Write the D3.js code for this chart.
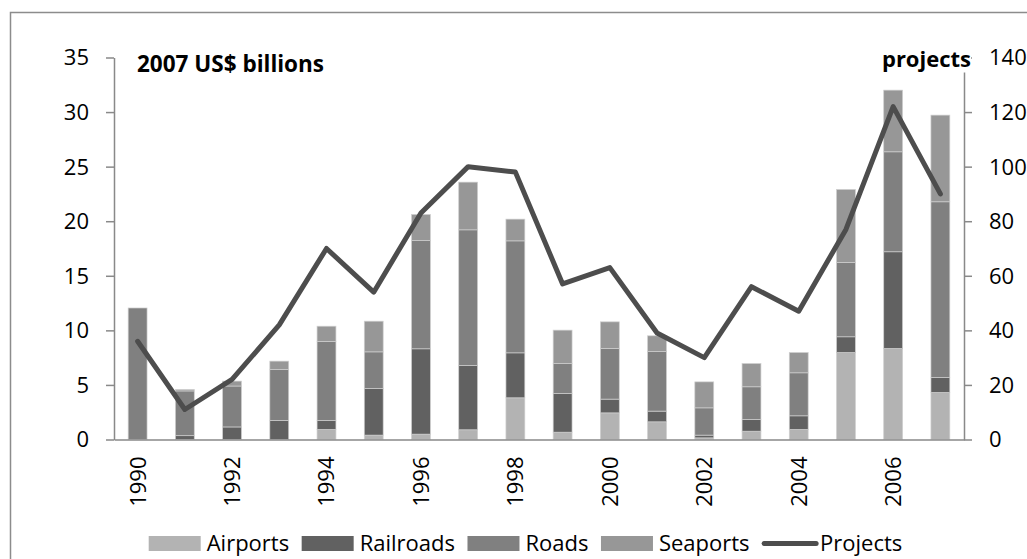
<!DOCTYPE html>
<html>
<head>
<meta charset="utf-8">
<script src="https://cdn.jsdelivr.net/npm/d3@7"></script>
<style>
  html, body { margin: 0; padding: 0; background: #fff; }
  svg { display: block; font-family: "Open Sans", "Liberation Sans", sans-serif; }
</style>
</head>
<body>
<svg id="chart" width="1027" height="559"></svg>
<script>
// Private investment in transport infrastructure, 1990–2007
const years = [1990, 1991, 1992, 1993, 1994, 1995, 1996, 1997, 1998, 1999,
               2000, 2001, 2002, 2003, 2004, 2005, 2006, 2007];
const airports  = [0, 0, 0, 0, 0.92, 0.40, 0.49, 0.89, 3.82, 0.67, 2.44, 1.62, 0.15, 0.76, 0.92, 7.97, 8.34, 4.31];
const railroads = [0, 0.35, 1.15, 1.74, 0.82, 4.27, 7.82, 5.89, 4.12, 3.54, 1.26, 0.98, 0.25, 1.07, 1.25, 1.44, 8.86, 1.37];
const roads     = [12.05, 4.10, 3.75, 4.67, 7.24, 3.36, 9.92, 12.43, 10.26, 2.75, 4.64, 5.46, 2.50, 3.00, 3.94, 6.81, 9.16, 16.10];
const seaports  = [0, 0.13, 0.45, 0.77, 1.40, 2.81, 2.39, 4.37, 1.99, 3.06, 2.44, 1.44, 2.38, 2.13, 1.86, 6.69, 5.65, 7.94];
const projects  = [36, 11, 22, 42, 70, 54, 83, 100, 98, 57, 63, 39, 30, 56, 47, 77, 122, 90];

const leftTicks  = [0, 5, 10, 15, 20, 25, 30, 35];
const rightTicks = [0, 20, 40, 60, 80, 100, 120, 140];

const seriesNames  = ["Airports", "Railroads", "Roads", "Seaports"];
const seriesColors = ["#b3b3b3", "#616161", "#808080", "#979797"];
const lineColor = "#4d4d4d";
const axisColor = "#898989";

const svg = d3.select("#chart");

// outer frame
svg.append("rect")
  .attr("x", 10.5).attr("y", 12.5)
  .attr("width", 1100).attr("height", 600)
  .attr("fill", "#fff")
  .attr("stroke", "#8c8c8c").attr("stroke-width", 1.5);

const plot = { left: 114, right: 964, top: 57.5, bottom: 439.5 };

const x = d3.scaleBand()
  .domain(years)
  .range([plot.left, plot.right])
  .paddingInner(0.6)
  .paddingOuter(0.3);

const y = d3.scaleLinear().domain([0, 35]).range([plot.bottom, plot.top]);
const y2 = d3.scaleLinear().domain([0, 140]).range([plot.bottom, plot.top]);

// stacked bars
const rows = years.map((yr, i) => ({
  year: yr,
  Airports: airports[i],
  Railroads: railroads[i],
  Roads: roads[i],
  Seaports: seaports[i]
}));
const stacked = d3.stack().keys(seriesNames)(rows);

svg.append("g").selectAll("g")
  .data(stacked)
  .join("g")
  .attr("fill", (d, i) => seriesColors[i])
  .selectAll("rect")
  .data(d => d.filter(s => s[1] - s[0] > 0))
  .join("rect")
  .attr("x", d => x(d.data.year))
  .attr("width", x.bandwidth())
  .attr("y", d => y(d[1]))
  .attr("height", d => y(d[0]) - y(d[1]))
  .attr("stroke", "#cfcfcf")
  .attr("stroke-width", 0.7);

// axes
const fontSize = 22;

const leftAxis = svg.append("g")
  .attr("transform", `translate(${plot.left},0)`)
  .call(d3.axisLeft(y).tickValues(leftTicks).tickSize(8).tickSizeOuter(0).tickPadding(17));

const rightAxis = svg.append("g")
  .attr("transform", `translate(${plot.right},0)`)
  .call(d3.axisRight(y2).tickValues(rightTicks).tickSize(8).tickSizeOuter(0).tickPadding(17));

const bottomAxis = svg.append("g")
  .attr("transform", `translate(0,${plot.bottom})`)
  .call(d3.axisBottom(x)
    .tickValues(years.filter(yr => yr % 2 === 0))
    .tickSize(0).tickSizeOuter(0).tickPadding(0));

[leftAxis, rightAxis, bottomAxis].forEach(g => {
  g.select(".domain").attr("stroke", axisColor).attr("stroke-width", 1.5);
  g.selectAll(".tick line").attr("stroke", axisColor).attr("stroke-width", 1.5);
  g.selectAll(".tick text")
    .attr("fill", "#000")
    .attr("font-size", fontSize)
    .attr("font-family", "'Open Sans', sans-serif");
});
leftAxis.selectAll(".tick text").attr("dy", "0.34em");
rightAxis.selectAll(".tick text").attr("dy", "0.34em");

bottomAxis.selectAll(".tick text")
  .attr("text-anchor", "end")
  .attr("transform", "translate(0,17) rotate(-90)")
  .attr("x", 0).attr("y", 0)
  .attr("dy", "0.36em");

// projects line
const line = d3.line()
  .x((d, i) => x(years[i]) + x.bandwidth() / 2)
  .y(d => y2(d));

svg.append("path")
  .datum(projects)
  .attr("d", line)
  .attr("fill", "none")
  .attr("stroke", lineColor)
  .attr("stroke-width", 5)
  .attr("stroke-linejoin", "round")
  .attr("stroke-linecap", "round");

// axis titles
svg.append("text")
  .attr("x", 137).attr("y", 71.5)
  .attr("font-size", 22.5).attr("font-weight", "bold")
  .attr("fill", "#000")
  .text("2007 US$ billions");

const projTitle = svg.append("g");
const projText = projTitle.append("text")
  .attr("x", 971).attr("y", 66.5)
  .attr("text-anchor", "end")
  .attr("font-size", 22).attr("font-weight", "bold")
  .attr("fill", "#000")
  .text("projects");
const pb = projText.node().getBBox();
projTitle.insert("rect", "text")
  .attr("x", pb.x).attr("y", pb.y)
  .attr("width", pb.width).attr("height", pb.height)
  .attr("fill", "#fff");

// legend
const legend = svg.append("g");
let lx = 148.7;
const legendY = 543.5;
seriesNames.forEach((name, i) => {
  legend.append("rect")
    .attr("x", lx).attr("y", legendY - 7.5)
    .attr("width", 52).attr("height", 15)
    .attr("fill", seriesColors[i]);
  const t = legend.append("text")
    .attr("x", lx + 58).attr("y", legendY + 7)
    .attr("font-size", fontSize).attr("fill", "#000")
    .text(name);
  lx += 58 + t.node().getComputedTextLength() + 12.5;
});
legend.append("line")
  .attr("x1", lx + 2).attr("x2", lx + 54)
  .attr("y1", legendY).attr("y2", legendY)
  .attr("stroke", lineColor).attr("stroke-width", 5)
  .attr("stroke-linecap", "round");
legend.append("text")
  .attr("x", lx + 58).attr("y", legendY + 7)
  .attr("font-size", fontSize).attr("fill", "#000")
  .text("Projects");
</script>
</body>
</html>
